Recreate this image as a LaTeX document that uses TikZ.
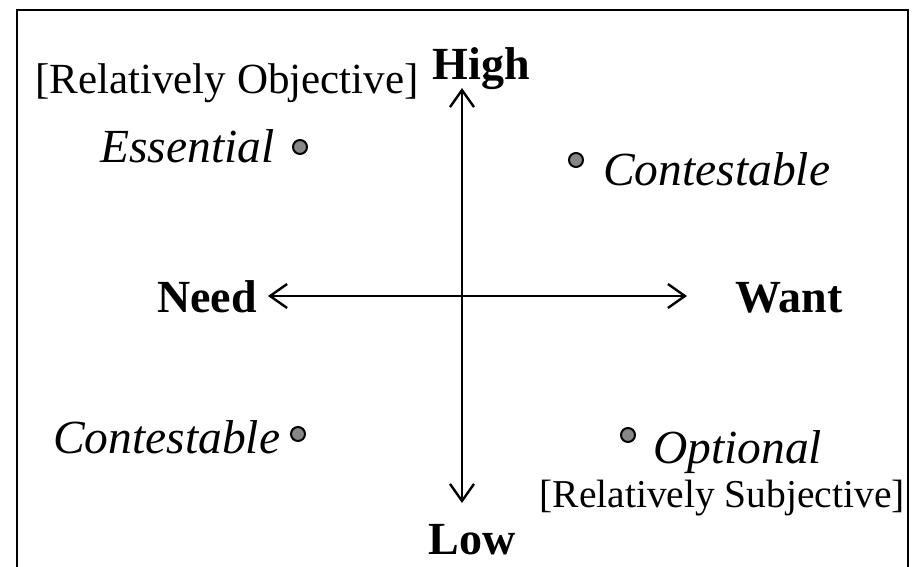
\documentclass[tikz,border=0pt]{standalone}
\usepackage{fontspec}
\setmainfont{Liberation Serif}
\usetikzlibrary{arrows.meta}
\begin{document}
\begin{tikzpicture}[x=1pt,y=-1pt,
  lbl/.style={inner sep=0pt, font=\fontsize{46}{54}\selectfont\bfseries},
  itl/.style={inner sep=0pt, font=\fontsize{47.5}{56}\selectfont\itshape},
  brk/.style={inner sep=0pt, font=\fontsize{43}{50}\selectfont},
  brks/.style={inner sep=0pt, font=\fontsize{39.5}{48}\selectfont},
  dot/.style={circle, draw=black, fill=gray!95, line width=2pt, minimum size=14pt, inner sep=0pt},
  axis/.style={line width=2.4pt, {Straight Barb[length=17pt,width=24pt]}-{Straight Barb[length=17pt,width=24pt]}},
  frame/.style={line width=2.4pt}]
\useasboundingbox (0,0) rectangle (914,566);
% frame
\coordinate (fbl) at (17,570);
\coordinate (ftl) at (17,10);
\coordinate (ftr) at (908,10);
\coordinate (fbr) at (908,570);
\draw[frame] (fbl) -- (ftl) -- (ftr) -- (fbr);
% axes
\coordinate (ytop) at (462,88);
\coordinate (ybot) at (462,503);
\coordinate (xl) at (268,296);
\coordinate (xr) at (687,296);
\draw[axis] (ybot) -- (ytop);
\draw[axis] (xl) -- (xr);
% axis labels
\node[lbl, anchor=base] (high) at (481,79) {High};
\node[lbl, anchor=base] (low) at (472,554) {Low};
\node[lbl, anchor=base west] (need) at (157,312) {Need};
\node[lbl, anchor=base west] (want) at (735,312) {Want};
% bracket notes
\node[brk, anchor=base west] (obj) at (35,93) {[Relatively Objective]};
\node[brks, anchor=base east] (subj) at (905,507) {[Relatively Subjective]};
% quadrant labels
\node[itl, anchor=base west] (ess) at (100,162) {Essential};
\node[itl, anchor=base west] (conur) at (603,185) {Contestable};
\node[itl, anchor=base west] (conll) at (53,453) {Contestable};
\node[itl, anchor=base west] (opt) at (653,463) {Optional};
% dots
\node[dot] (d1) at (300,147) {};
\node[dot] (d2) at (576,160) {};
\node[dot] (d3) at (298,434) {};
\node[dot] (d4) at (628,435) {};
\end{tikzpicture}
\end{document}
